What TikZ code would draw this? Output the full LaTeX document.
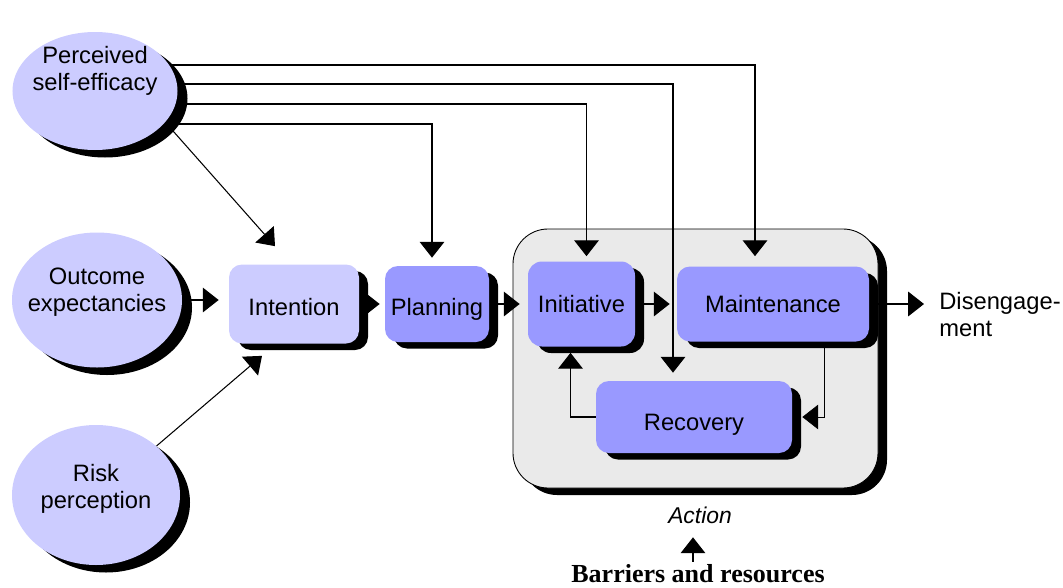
\documentclass[tikz,border=0pt]{standalone}
\usepackage{fontspec}
\setmainfont{Liberation Sans}
\newfontfamily\timesfont{Liberation Serif}
\usetikzlibrary{arrows.meta,calc,shapes.geometric,shadows}
\pgfdeclarelayer{boxlayer}
\pgfdeclarelayer{edgelayer}
\pgfdeclarelayer{nodelayer}
\pgfsetlayers{boxlayer,edgelayer,nodelayer,main}
\definecolor{lilac}{HTML}{CCCCFF}
\definecolor{periwinkle}{HTML}{9999FF}
\definecolor{actiongray}{HTML}{EAEAEA}
\tikzstyle{factor}=[ellipse, fill=lilac, inner sep=0pt, drop shadow={shadow xshift=2mm, shadow yshift=-1.5mm, fill=black, opacity=1}]
\tikzstyle{stage}=[rectangle, rounded corners=2.6mm, fill=periwinkle, inner sep=0pt, drop shadow={shadow xshift=1.8mm, shadow yshift=-1.3mm, fill=black, opacity=1}]
\tikzstyle{actionbox}=[rectangle, rounded corners=7mm, fill=actiongray, draw=black, line width=0.5pt, drop shadow={shadow xshift=1.8mm, shadow yshift=-1.4mm, fill=black, opacity=1}]
\tikzstyle{arrow}=[-{Triangle[width=14pt,length=9pt]}, draw=black, line width=0.6pt]
\tikzstyle{thinarrow}=[arrow, line width=0.4pt]
\newcommand{\droptext}[2]{\raisebox{-#1}[\height][\depth]{#2}}

\begin{document}
\begin{tikzpicture}[x=0.2mm, y=-0.2mm, font=\fontsize{13.5}{15.5}\selectfont, every label/.style={align=center}]
            \useasboundingbox (0,0) rectangle (1063,588);
            \begin{pgfonlayer}{boxlayer}
                \node [style=actionbox, minimum width=73mm, minimum height=51.8mm] (action) at (695.5,358.5) {};
            \end{pgfonlayer}
            \begin{pgfonlayer}{nodelayer}
                \node [style=factor, minimum width=33mm, minimum height=23.6mm, label={[yshift=4mm]center:{Perceived\\self-efficacy}}] (pse) at (95,91) {};
                \node [style=factor, minimum width=34mm, minimum height=27mm, label={[yshift=1.6mm]center:{Outcome\\expectancies}}] (oe) at (97,300) {};
                \node [style=factor, minimum width=33.6mm, minimum height=28mm, label={[yshift=1.2mm]center:{Risk\\perception}}] (rp) at (96,495) {};
                \node [style=stage, fill=lilac, minimum width=26mm, minimum height=15.8mm] (intent) at (294,304) {\droptext{0.6mm}{Intention}};
                \node [style=stage, minimum width=20.8mm, minimum height=15.2mm] (plan) at (437,304) {\droptext{1mm}{Planning}};
                \node [style=stage, rounded corners=2.8mm, minimum width=21.4mm, minimum height=17mm] (init) at (581.5,304) {Initiative};
                \node [style=stage, minimum width=38.4mm, minimum height=15mm] (maint) at (773,304) {Maintenance};
                \node [style=stage, minimum width=39.2mm, minimum height=14.4mm] (recov) at (694,417) {\droptext{1.6mm}{Recovery}};
                \node [anchor=north west, align=left, inner sep=0pt] (diseng) at (939,292) {Disengage-\\ment};
                \node [anchor=base, inner sep=1pt, font=\fontsize{13}{15}\selectfont\itshape] (actlabel) at (700,523) {Action};
                \node [anchor=base, inner sep=1pt, font=\timesfont\fontsize{14.8}{16}\selectfont\bfseries] (barriers) at (698,582) {Barriers and resources};
            \end{pgfonlayer}
            \begin{pgfonlayer}{edgelayer}
                \draw [style=arrow, shorten >=2mm] ($(pse.center)+(0,-26)$) -| ($(maint.north)+(-18,0)$);
                \draw [style=arrow, shorten >=1.6mm] ($(pse.center)+(0,-7)$) -| ($(recov.north)+(-21,0)$);
                \draw [style=arrow, shorten >=1mm] ($(pse.center)+(0,13)$) -| ($(init.north)+(5,0)$);
                \draw [style=arrow, shorten >=1.6mm] ($(pse.center)+(0,33)$) -| ($(plan.north)+(-5,0)$);
                \draw [style=arrow] (pse.-24) -- ($(intent.north)+(-19,-18)$);
                \draw [style=arrow] (rp.39) -- ($(intent.south)+(-32,12)$);
                \draw [style=arrow, shorten >=2mm] (oe.east) -- (oe.east -| intent.west);
                \draw [style=arrow, shorten >=1mm] (intent) -- (plan);
                \draw [style=arrow, shorten >=1.6mm] (plan) -- (init);
                \draw [style=arrow, shorten >=1.4mm] (init) -- (maint);
                \draw [style=thinarrow, shorten >=2mm] ($(maint.south)+(51,0)$) |- (recov.east);
                \draw [style=arrow, shorten >=1.2mm] (recov.west) -| ($(init.south)+(-11,0)$);
                \draw [style=arrow, shorten >=3mm] (maint) -- (maint -| diseng.west);
                \draw [style=arrow, shorten >=2.4mm] ($(barriers.north)+(-5,0)$) -- ($(actlabel.south)+(-7,0)$);
            \end{pgfonlayer}
        \end{tikzpicture}
\end{document}
